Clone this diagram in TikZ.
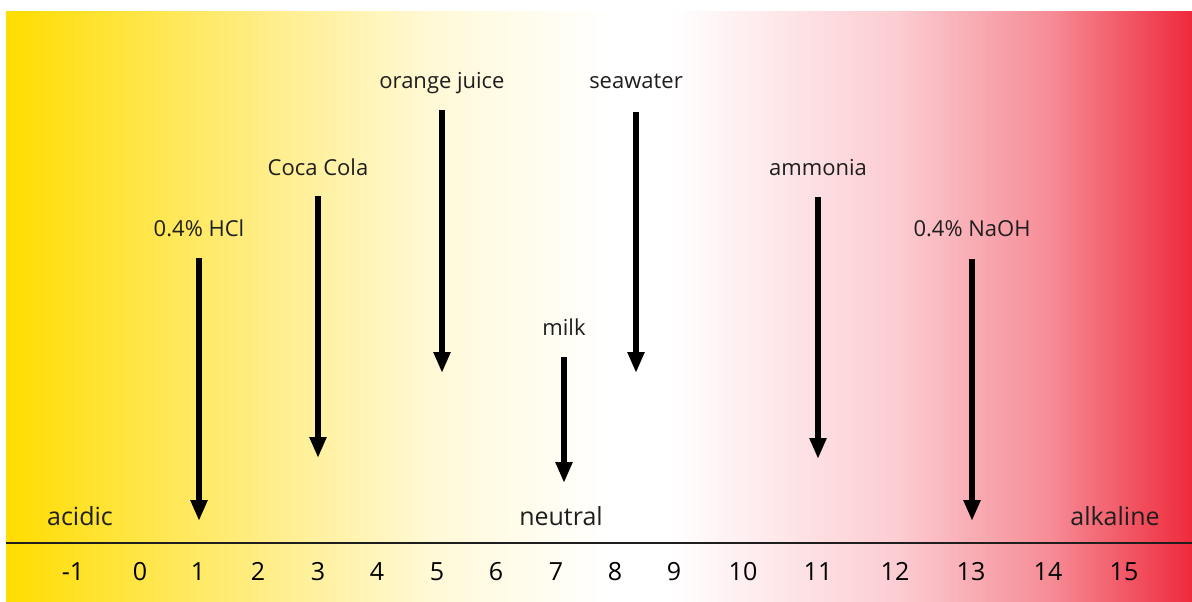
\documentclass[tikz,border=0pt]{standalone}
\usepackage{fontspec}
\setmainfont{Open Sans}
\usetikzlibrary{arrows.meta}
\definecolor{lemon}{RGB}{255,221,0}
\definecolor{lemonmid}{RGB}{255,236,125}
\definecolor{lemonpale}{RGB}{255,249,215}
\definecolor{blush}{RGB}{252,205,210}
\definecolor{rose}{RGB}{246,140,150}
\definecolor{scarlet}{RGB}{238,42,60}
\definecolor{ink}{RGB}{30,30,30}
% the band is mapped onto 25bp..75bp of the shading
\pgfdeclarehorizontalshading{phscale}{100bp}{color(0bp)=(lemon); color(25bp)=(lemon);
  color(35bp)=(lemonmid); color(43bp)=(lemonpale); color(50.5bp)=(white); color(53bp)=(white);
  color(62.5bp)=(blush); color(69bp)=(rose); color(75bp)=(scarlet); color(100bp)=(scarlet)}
\tikzset{
  >={Triangle[length=10.5pt,width=8pt]},
  probe/.style={->,line width=3pt,draw=black},
  tag/.style={anchor=base,font=\fontsize{11}{13}\selectfont,text=ink,inner sep=0pt},
  side/.style={anchor=base,font=\fontsize{12.5}{15}\selectfont,text=ink,inner sep=0pt},
  tick/.style={anchor=base,font=\fontsize{12.5}{15}\selectfont,text=black,inner sep=0pt},
}
\begin{document}
\begin{tikzpicture}[x=0.5pt,y=-0.5pt]
  \useasboundingbox (0,0) rectangle (1192,601);
  % colour band
  \shade[shading=phscale] (6,11) rectangle (1192,601);
  % scale
  \coordinate (ax0) at (6,543);
  \coordinate (ax1) at (1192,543);
  \draw[ink,line width=0.6pt] (ax0) -- (ax1);
  \foreach \v/\x in {-1/73,0/140,1/198,2/258,3/318,4/377,5/437,6/496,7/556,8/615,9/674,10/743,11/818,12/895,13/971,14/1048,15/1124}
    \node[tick] (n\v) at (\x,580) {\v};
  \node[side] (acid) at (80,525) {acidic};
  \node[side] (neut) at (561,525) {neutral};
  \node[side] (alka) at (1115,525) {alkaline};
  % substances
  \foreach \n/\x/\ly/\t/\top/\bot in {hcl/199/236/0.4\% HCl/258/521,coke/318/175/Coca Cola/196/458,
      oj/442/88/orange juice/110/373,sea/636/88/seawater/112/373,milk/564/335/milk/357/483,
      nh/818/175/ammonia/197/459,naoh/972/236/0.4\% NaOH/259/521}{
    \node[tag] (l\n) at (\x,\ly) {\t};
    \coordinate (t\n) at (\x,\top);
    \coordinate (b\n) at (\x,\bot);
    \draw[probe] (t\n) -- (b\n);
  }
\end{tikzpicture}
\end{document}
